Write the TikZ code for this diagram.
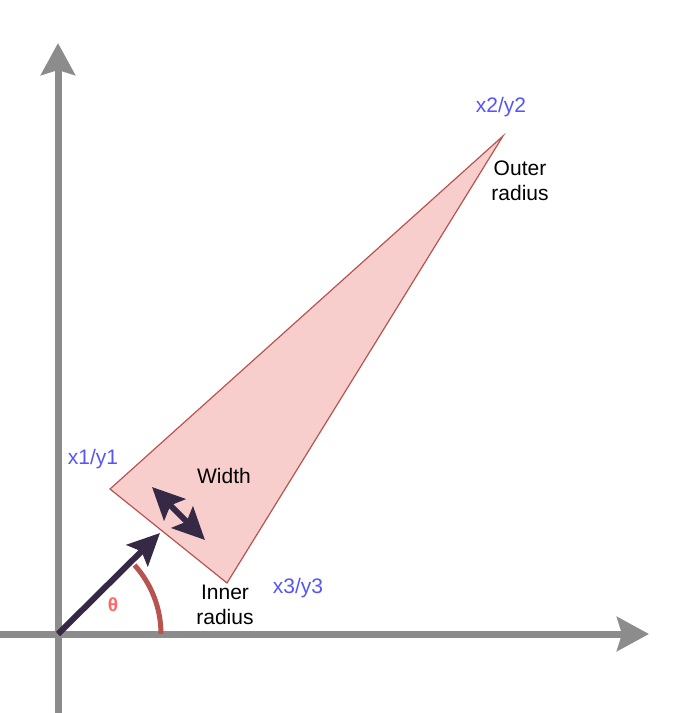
\documentclass[tikz,border=0pt]{standalone}
\usepackage{fontspec}
\setmainfont{Liberation Sans}
\usepackage{xcolor}
\usetikzlibrary{arrows.meta, positioning, calc}

\definecolor{axisgray}{HTML}{8C8C8C}
\definecolor{wedgefill}{HTML}{F8CECC}
\definecolor{wedgeline}{HTML}{B85450}
\definecolor{ptblue}{HTML}{5555FA}
\definecolor{darkpurple}{HTML}{352945}
\definecolor{thetared}{HTML}{FF6666}

\tikzset{
  axis/.style={line width=7pt, axisgray, -{Stealth[length=32pt, width=34pt, inset=5pt]}},
  ptlabel/.style={text=ptblue, inner sep=0pt},
  txtlabel/.style={align=center, inner sep=0pt, font=\fontsize{21}{25}\selectfont},
  heavyarrow/.style={line width=6pt, darkpurple},
}

\begin{document}
\begin{tikzpicture}[x=1pt, y=-1pt, font=\fontsize{21}{25}\selectfont]
\useasboundingbox (0,0) rectangle (683,713);

% Axes
\coordinate (O) at (58,634);
\coordinate (ybot) at (58,713);
\coordinate (ytop) at (58,43);
\coordinate (xleft) at (0,634);
\coordinate (xright) at (649,634);
\draw[axis] (ybot) -- (ytop);
\draw[axis] (xleft) -- (xright);

% Wedge corners
\coordinate (p1) at (110,489);
\coordinate (p2) at (503,136);
\coordinate (p3) at (227,583);
\draw[wedgeline, fill=wedgefill, line width=1.2pt] (p1) -- (p2) -- (p3) -- cycle;

% Corner labels
\node[ptlabel] (l1) at (93,459) {x1/y1};
\node[ptlabel] (l2) at (501,107) {x2/y2};
\node[ptlabel] (l3) at (298,588) {x3/y3};

% Radius and width labels
\node[txtlabel] (outer) at (520,181) {Outer\\radius};
\node[txtlabel] (inner) at (225,605) {Inner\\radius};
\node[txtlabel] (width) at (224,476) {Width};

% Angle arc
\draw[wedgeline, line width=5pt] ($(O)+(103,0)$) arc[start angle=0, end angle=-42, radius=103];
\node[text=thetared, font=\fontsize{19}{22}\selectfont\bfseries] (theta) at (113,605) {θ};

% Direction vector
\coordinate (dirtip) at (160,533);
\draw[heavyarrow, -{Stealth[length=32pt, width=30pt, inset=6pt]}] (O) -- (dirtip);

% Width arrow
\coordinate (wa) at (152,487);
\coordinate (wb) at (205,540);
\draw[heavyarrow, {Stealth[length=32pt, width=30pt, inset=6pt]}-{Stealth[length=32pt, width=30pt, inset=6pt]}] (wa) -- (wb);

\end{tikzpicture}
\end{document}
